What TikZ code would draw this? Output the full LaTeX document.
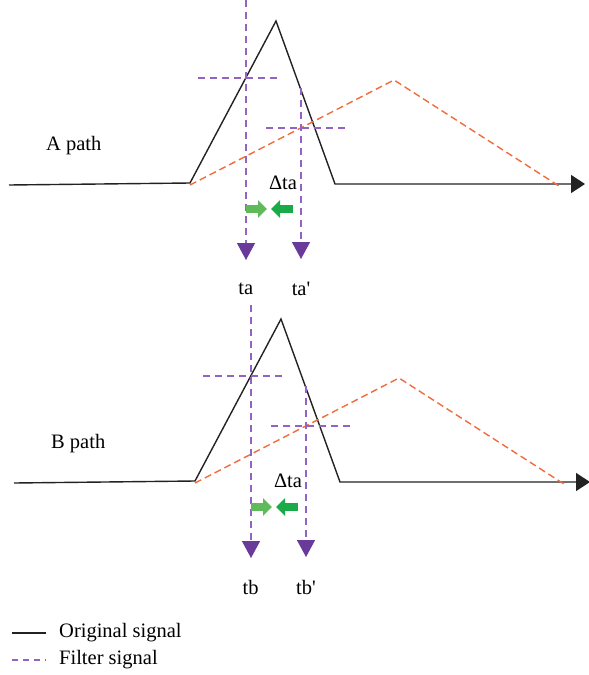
\documentclass[tikz,border=0pt]{standalone}
\usepackage{fontspec}
\setmainfont{Liberation Serif}
\usetikzlibrary{arrows.meta}
\definecolor{SigBlack}{HTML}{222222}
\definecolor{FiltPurple}{HTML}{9163C2}
\definecolor{TipPurple}{HTML}{6A3A9B}
\definecolor{FiltOrange}{HTML}{F26B3A}
\definecolor{LightGreen}{HTML}{5FBB5A}
\definecolor{DarkGreen}{HTML}{1BAA48}

\tikzset{
  orig/.style={draw=SigBlack,line width=1.4pt},
  filt/.style={draw=FiltPurple,line width=1.4pt,dash pattern=on 7pt off 5pt},
  filtor/.style={draw=FiltOrange,line width=1.4pt,dash pattern=on 7pt off 4pt},
  tlabel/.style={font=\fontsize{20.5}{24}\selectfont,inner sep=1pt},
  shift arrow/.style={line width=8pt,-{Triangle[length=9pt,width=17pt]}}
}

\begin{document}
\begin{tikzpicture}[x=1pt,y=-1pt]
  \useasboundingbox (0,0) rectangle (589,675);

  \foreach \p/\P/\dx/\dy/\top in {a/A/0/0/0,b/B/5/298/7} {
    \begin{scope}[shift={(\dx,\dy)}]
      % original signal
      \coordinate (\p s0) at (9,185);
      \coordinate (\p s1) at (190,183);
      \coordinate (\p s2) at (276,21);
      \coordinate (\p s3) at (335,184);
      \coordinate (\p s4) at (585,184);
      \draw[orig,-{Triangle[length=14pt,width=18pt]}] (\p s0) -- (\p s1) -- (\p s2) -- (\p s3) -- (\p s4);
      % filter signal
      \coordinate (\p f0) at (190,185);
      \coordinate (\p f1) at (394,80);
      \coordinate (\p f2) at (559,186);
      \draw[filtor] (\p f0) -- (\p f1) -- (\p f2);
      % levels
      \coordinate (\p h1) at (198,77.8);
      \coordinate (\p h2) at (279,77.8);
      \coordinate (\p h3) at (266,128);
      \coordinate (\p h4) at (346,128);
      \draw[filt] (\p h1) -- (\p h2);
      \draw[filt] (\p h3) -- (\p h4);
      % time marks
      \node[tlabel] (\p t) at (245.7,289) {t\p};
      \node[tlabel] (\p tp) at (301,289) {t\p\textquotesingle};
      \coordinate (\p v1) at (246,\top);
      \coordinate (\p v2) at (246,260);
      \coordinate (\p v3) at (301,88);
      \coordinate (\p v4) at (301,259);
      \draw[filt,-{Triangle[length=17pt,width=18pt,color=TipPurple]}] (\p v1) -- (\p v2);
      \draw[filt,-{Triangle[length=17pt,width=18pt,color=TipPurple]}] (\p v3) -- (\p v4);
      % shift
      \node[tlabel] (\p d) at (283,183) {Δta};
      \coordinate (\p g1) at (245.7,209);
      \coordinate (\p g2) at (267,209);
      \coordinate (\p g3) at (293,209);
      \coordinate (\p g4) at (271,209);
      \draw[shift arrow,LightGreen] (\p g1) -- (\p g2);
      \draw[shift arrow,DarkGreen] (\p g3) -- (\p g4);
      \node[tlabel,anchor=west] (\p name) at (45,146) {\P{} path};
    \end{scope}
  }

  % legend
  \coordinate (l1) at (12,633);
  \coordinate (l2) at (46,633);
  \coordinate (l3) at (12,660);
  \coordinate (l4) at (46,660);
  \draw[orig,line width=1.1pt] (l1) -- (l2);
  \draw[filt,line width=1.1pt,dash pattern=on 6pt off 5pt] (l3) -- (l4);
  \node[tlabel,anchor=west] (lorig) at (58,633) {Original signal};
  \node[tlabel,anchor=west] (lfilt) at (58,660) {Filter signal};
\end{tikzpicture}
\end{document}
